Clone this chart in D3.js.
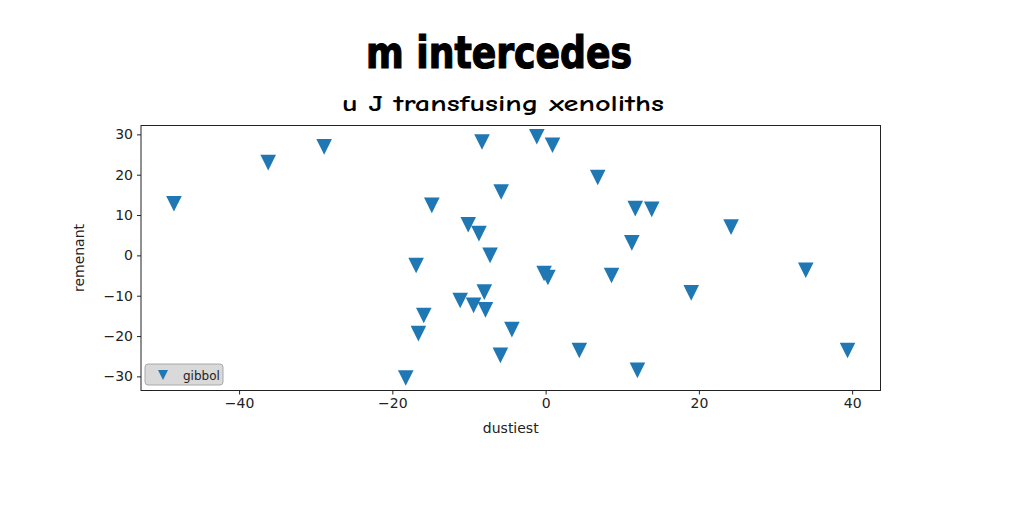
<!DOCTYPE html>
<html>
<head>
<meta charset="utf-8">
<script src="https://cdn.jsdelivr.net/npm/d3@7"></script>
<style>
  html, body { margin: 0; padding: 0; background: #fff; }
  svg { display: block; }
</style>
</head>
<body>
<svg id="chart" width="1024" height="512"></svg>
<script>
// ---- data ----
const seriesName = "gibbol";
const xValues = [-48.5, -36.2, -28.9, -8.3, -1.15, 0.9, 6.8, -5.8, -14.85, 11.7, 13.85, 24.2,
  -10.1, -8.7, 11.25, -7.25, -16.9, -0.2, 0.3, 8.6, 33.95, -8.0, -11.15, -9.4, -7.85, 19.0,
  -15.9, -16.6, -4.4, -5.9, 4.4, 39.4, -18.25, 11.98];
const yValues = [12.8, 23.0, 26.9, 28.1, 29.4, 27.3, 19.3, 15.7, 12.4, 11.6, 11.4, 7.0,
  7.6, 5.4, 3.1, 0.0, -2.5, -4.5, -5.5, -5.0, -3.7, -9.1, -11.2, -12.4, -13.5, -9.3,
  -14.9, -19.4, -18.4, -24.8, -23.6, -23.6, -30.4, -28.5];
const xTicks = [-40, -20, 0, 20, 40];
const yTicks = [-30, -20, -10, 0, 10, 20, 30];
const xDomain = [-52.8, 43.7];
const yDomain = [-33.5, 32.2];
const titleText = "m intercedes";
const subtitleText = "u J transfusing xenoliths";
const xLabel = "dustiest";
const yLabel = "remenant";

// ---- layout ----
const L = 141, R = 880.5, T = 125.5, B = 390.5;
const svg = d3.select("#chart");
const x = d3.scaleLinear().domain(xDomain).range([L, R]);
const y = d3.scaleLinear().domain(yDomain).range([B, T]);
const color = "#1f77b4";
const tickFont = "DejaVu Sans, sans-serif";

// titles
svg.append("text")
  .attr("x", 499).attr("y", 68)
  .attr("text-anchor", "middle")
  .attr("font-family", "Impact, 'Liberation Sans Narrow', 'DejaVu Sans Condensed', sans-serif")
  .attr("font-weight", "bold")
  .attr("font-size", 44)
  .attr("stroke", "#000").attr("stroke-width", 1.2)
  .attr("textLength", 266).attr("lengthAdjust", "spacingAndGlyphs")
  .text(titleText);

svg.append("text")
  .attr("x", 503).attr("y", 111)
  .attr("text-anchor", "middle")
  .attr("font-family", "'Comic Sans MS', 'Comic Neue', 'DejaVu Sans', sans-serif")
  .attr("font-weight", "bold")
  .attr("font-size", 22)
  .attr("textLength", 322).attr("lengthAdjust", "spacingAndGlyphs")
  .text(subtitleText);

// plot frame
svg.append("rect")
  .attr("x", L).attr("y", T).attr("width", R - L).attr("height", B - T)
  .attr("fill", "none").attr("stroke", "#222").attr("stroke-width", 1);

// axes
const xAxis = d3.axisBottom(x).tickValues(xTicks).tickSize(4).tickPadding(4)
  .tickFormat(d => d < 0 ? "\u2212" + Math.abs(d) : d);
const yAxis = d3.axisLeft(y).tickValues(yTicks).tickSize(4).tickPadding(4)
  .tickFormat(d => d < 0 ? "\u2212" + Math.abs(d) : d);

const gx = svg.append("g").attr("transform", `translate(0,${B})`).call(xAxis);
const gy = svg.append("g").attr("transform", `translate(${L},0)`).call(yAxis);
[gx, gy].forEach(g => {
  g.select(".domain").remove();
  g.selectAll(".tick line").attr("stroke", "#222");
  g.selectAll(".tick text").attr("font-family", tickFont).attr("font-size", 14).attr("fill", "#222");
});

svg.append("text")
  .attr("x", (L + R) / 2).attr("y", 433)
  .attr("text-anchor", "middle")
  .attr("font-family", tickFont).attr("font-size", 14).attr("fill", "#222")
  .text(xLabel);

svg.append("text")
  .attr("transform", `translate(84,${(T + B) / 2}) rotate(-90)`)
  .attr("text-anchor", "middle")
  .attr("font-family", tickFont).attr("font-size", 14).attr("fill", "#222")
  .text(yLabel);

// markers
const tri = s => `M0,${s} L${-s},${-s} L${s},${-s} Z`;
svg.append("g").selectAll("path")
  .data(xValues.map((v, i) => [v, yValues[i]]))
  .join("path")
  .attr("transform", d => `translate(${x(d[0])},${y(d[1])})`)
  .attr("d", tri(7.8))
  .attr("fill", color);

// legend
const lg = svg.append("g");
lg.append("rect")
  .attr("x", 145).attr("y", 364).attr("width", 78).attr("height", 21)
  .attr("rx", 3).attr("ry", 3)
  .attr("fill", "#d9d9d9").attr("stroke", "#a8a8a8").attr("stroke-width", 1);
lg.append("path")
  .attr("transform", "translate(163,375)")
  .attr("d", tri(5))
  .attr("fill", color);
lg.append("text")
  .attr("x", 183).attr("y", 379.5)
  .attr("font-family", tickFont).attr("font-size", 12).attr("fill", "#222")
  .text(seriesName);
</script>
</body>
</html>
